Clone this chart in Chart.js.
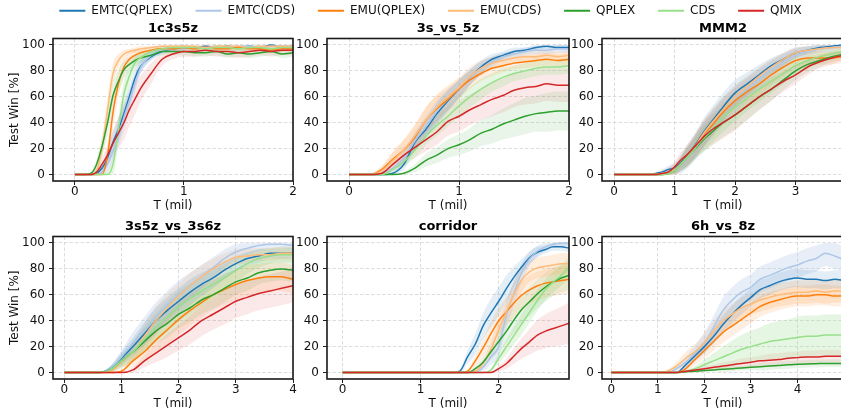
<!DOCTYPE html>
<html>
<head>
<meta charset="utf-8">
<script src="https://cdn.jsdelivr.net/npm/chart.js@4.4.0/dist/chart.umd.min.js"></script>
<style>
  html, body { margin: 0; padding: 0; background: #fff; }
  body { width: 841px; height: 410px; overflow: hidden; position: relative; }
  canvas { position: absolute; }
</style>
</head>
<body>
<canvas id="legend"></canvas>
<canvas id="p0"></canvas>
<canvas id="p1"></canvas>
<canvas id="p2"></canvas>
<canvas id="p3"></canvas>
<canvas id="p4"></canvas>
<canvas id="p5"></canvas>
<script>
// ---- data ----
const seriesNames = ['EMTC(QPLEX)', 'EMTC(CDS)', 'EMU(QPLEX)', 'EMU(CDS)', 'QPLEX', 'CDS', 'QMIX'];
const panelTitles = ['1c3s5z', '3s_vs_5z', 'MMM2', '3s5z_vs_3s6z', 'corridor', '6h_vs_8z'];
const yTicks = [0, 20, 40, 60, 80, 100];
const xTicksList = [[0, 1, 2], [0, 1, 2], [0, 1, 2, 3], [0, 1, 2, 3, 4], [0, 1, 2], [0, 1, 2, 3, 4]];
const xMaxList = [2, 2, 3.8, 4, 2.9, 5];

// 1c3s5z
const t1c3s5z = [0, 0.1, 0.15, 0.2, 0.25, 0.3, 0.35, 0.4, 0.45, 0.5, 0.55, 0.6, 0.7, 0.8, 0.9, 1.0, 1.1, 1.2, 1.3, 1.4, 1.5, 1.6, 1.7, 1.8, 1.9, 2.0];
const mean1c3s5z = [
  [0, 0, 0, 1, 5, 13, 25, 35, 47, 60, 74, 83, 91, 95, 97, 98, 98, 99, 98, 99, 98, 99, 98, 100, 98, 99],
  [0, 0, 0, 0, 2, 8, 18, 30, 44, 57, 70, 82, 92, 96, 97, 98, 98, 98, 99, 98, 99, 99, 98, 99, 99, 99],
  [0, 0, 0, 0, 0, 15, 48, 70, 83, 89, 92, 94, 96, 97, 97, 98, 97, 98, 97, 97, 98, 97, 97, 96, 97, 97],
  [0, 0, 0, 3, 20, 50, 78, 88, 93, 95, 96, 97, 98, 99, 99, 99, 99, 98, 99, 99, 99, 98, 99, 99, 99, 99],
  [0, 0, 1, 8, 22, 40, 61, 72, 81, 85, 88, 90, 92, 95, 95, 95, 94, 94, 95, 93, 94, 93, 94, 95, 93, 94],
  [0, 0, 0, 0, 0, 0, 8, 35, 62, 76, 86, 90, 95, 97, 98, 98, 98, 97, 98, 98, 97, 98, 98, 97, 98, 98],
  [0, 0, 0, 2, 8, 15, 24, 32, 40, 50, 58, 66, 78, 89, 93, 95, 95, 96, 95, 95, 94, 95, 96, 95, 96, 96]
];
const std1c3s5z = [
  [0, 0, 0, 1, 3, 6, 8, 9, 9, 8, 7, 5, 3, 2, 2, 1, 1, 1, 1, 1, 1, 1, 1, 1, 1, 1],
  [0, 0, 0, 1, 3, 6, 8, 9, 9, 8, 7, 5, 3, 2, 2, 2, 1, 1, 1, 1, 1, 1, 1, 1, 1, 1],
  [0, 0, 0, 1, 3, 8, 12, 10, 7, 5, 4, 3, 2, 2, 2, 2, 2, 2, 2, 2, 2, 2, 2, 2, 2, 2],
  [0, 0, 1, 4, 8, 10, 8, 5, 3, 2, 2, 2, 1, 1, 1, 1, 1, 1, 1, 1, 1, 1, 1, 1, 1, 1],
  [0, 0, 1, 4, 8, 10, 10, 9, 7, 6, 5, 4, 3, 3, 3, 3, 3, 3, 3, 3, 3, 3, 3, 3, 3, 3],
  [0, 0, 0, 0, 1, 3, 8, 10, 10, 7, 5, 4, 2, 2, 2, 2, 2, 2, 2, 2, 2, 2, 2, 2, 2, 2],
  [0, 0, 0, 2, 5, 8, 10, 12, 13, 13, 12, 10, 8, 5, 4, 4, 4, 4, 4, 4, 4, 4, 4, 4, 4, 4]
];

// 3s_vs_5z
const t3s5z = [0, 0.1, 0.2, 0.3, 0.4, 0.5, 0.6, 0.7, 0.8, 0.9, 1.0, 1.1, 1.2, 1.3, 1.4, 1.5, 1.6, 1.7, 1.8, 1.9, 2.0];
const mean3s5z = [
  [0, 0, 0, 0, 1, 8, 25, 35, 47, 57, 66, 75, 83, 89, 92, 95, 96, 98, 99, 98, 98],
  [0, 0, 0, 1, 5, 13, 26, 37, 49, 58, 66, 75, 82, 87, 91, 93, 95, 96, 96, 97, 97],
  [0, 0, 0, 4, 12, 19, 29, 42, 51, 58, 66, 73, 78, 82, 84, 86, 87, 88, 89, 88, 89],
  [0, 0, 0, 3, 11, 19, 30, 42, 52, 60, 67, 76, 82, 86, 88, 90, 91, 91, 92, 91, 92],
  [0, 0, 0, 0, 0, 1, 5, 11, 15, 20, 23, 27, 32, 35, 39, 42, 45, 47, 48, 49, 49],
  [0, 0, 0, 0, 4, 10, 19, 30, 38, 45, 53, 60, 66, 71, 75, 78, 80, 82, 83, 83, 84],
  [0, 0, 0, 1, 8, 15, 21, 27, 33, 41, 45, 50, 54, 58, 61, 65, 67, 68, 70, 69, 69]
];
const std3s5z = [
  [0, 0, 0, 0, 1, 4, 6, 7, 8, 8, 7, 6, 5, 4, 3, 3, 2, 2, 2, 2, 2],
  [0, 0, 0, 1, 3, 5, 7, 8, 8, 8, 7, 6, 5, 4, 3, 3, 3, 3, 3, 3, 3],
  [0, 0, 1, 3, 6, 8, 9, 10, 10, 9, 8, 7, 6, 6, 5, 5, 5, 5, 5, 5, 5],
  [0, 0, 1, 3, 6, 8, 9, 10, 10, 9, 8, 7, 6, 5, 5, 4, 4, 4, 4, 4, 4],
  [0, 0, 0, 0, 0, 1, 3, 5, 6, 7, 8, 9, 10, 11, 12, 13, 14, 14, 15, 15, 15],
  [0, 0, 0, 0, 2, 4, 6, 7, 8, 8, 8, 8, 8, 7, 7, 6, 6, 6, 6, 6, 6],
  [0, 0, 0, 1, 4, 6, 8, 9, 10, 11, 12, 12, 12, 13, 13, 13, 13, 13, 13, 13, 13]
];

// MMM2
const tMMM2 = [0, 0.2, 0.4, 0.6, 0.7, 0.8, 0.9, 1.0, 1.1, 1.2, 1.3, 1.4, 1.5, 1.6, 1.8, 2.0, 2.2, 2.4, 2.6, 2.8, 3.0, 3.2, 3.4, 3.6, 3.8, 4.0];
const meanMMM2 = [
  [0, 0, 0, 0, 1, 2, 4, 5, 9, 14, 20, 27, 34, 40, 52, 63, 70, 77, 84, 89, 94, 96, 98, 99, 100, 100],
  [0, 0, 0, 0, 0, 1, 2, 3, 7, 12, 18, 25, 32, 38, 49, 58, 66, 74, 81, 87, 92, 95, 97, 98, 99, 99],
  [0, 0, 0, 0, 0, 0, 1, 3, 8, 13, 19, 26, 32, 37, 48, 57, 64, 70, 77, 83, 88, 90, 90, 90, 91, 91],
  [0, 0, 0, 0, 0, 1, 2, 4, 8, 13, 19, 26, 33, 39, 50, 60, 68, 76, 83, 89, 94, 96, 97, 98, 98, 98],
  [0, 0, 0, 0, 0, 0, 1, 3, 8, 13, 18, 23, 28, 32, 40, 46, 53, 60, 66, 73, 80, 85, 88, 91, 93, 95],
  [0, 0, 0, 0, 0, 0, 1, 3, 8, 13, 18, 24, 29, 34, 44, 52, 59, 66, 72, 78, 84, 88, 91, 93, 95, 96],
  [0, 0, 0, 0, 0, 1, 2, 6, 11, 15, 20, 25, 30, 34, 40, 46, 53, 60, 66, 72, 77, 83, 87, 90, 92, 93]
];
const stdMMM2 = [
  [0, 0, 0, 0, 1, 2, 3, 4, 6, 8, 9, 10, 11, 11, 11, 10, 9, 8, 6, 5, 4, 3, 2, 2, 1, 1],
  [0, 0, 0, 0, 1, 2, 3, 4, 6, 8, 9, 10, 10, 10, 10, 10, 9, 8, 7, 6, 5, 4, 3, 3, 2, 2],
  [0, 0, 0, 0, 0, 1, 2, 3, 5, 7, 8, 9, 10, 10, 10, 10, 10, 9, 8, 7, 6, 6, 5, 5, 5, 5],
  [0, 0, 0, 0, 1, 2, 3, 4, 6, 8, 9, 10, 10, 10, 10, 9, 8, 7, 6, 5, 4, 3, 3, 2, 2, 2],
  [0, 0, 0, 0, 0, 1, 2, 3, 5, 7, 8, 9, 10, 10, 11, 11, 11, 10, 9, 8, 7, 6, 5, 4, 4, 4],
  [0, 0, 0, 0, 0, 1, 2, 3, 5, 7, 8, 9, 10, 10, 11, 11, 10, 10, 9, 8, 7, 6, 5, 4, 4, 4],
  [0, 0, 0, 0, 1, 2, 3, 4, 6, 8, 9, 10, 11, 12, 12, 12, 11, 10, 9, 8, 7, 6, 5, 5, 4, 4]
];

// 3s5z_vs_3s6z
const t3s6z = [0, 0.2, 0.4, 0.6, 0.8, 1.0, 1.2, 1.4, 1.6, 1.8, 2.0, 2.2, 2.4, 2.6, 2.8, 3.0, 3.2, 3.4, 3.6, 3.8, 4.0];
const mean3s6z = [
  [0, 0, 0, 0, 3, 11, 20, 30, 40, 48, 55, 62, 68, 73, 79, 84, 88, 90, 92, 92, 92],
  [0, 0, 0, 0, 3, 12, 23, 33, 43, 52, 60, 67, 74, 81, 88, 93, 96, 98, 99, 99, 98],
  [0, 0, 0, 0, 0, 1, 9, 16, 25, 33, 41, 48, 54, 60, 64, 68, 71, 73, 74, 74, 72],
  [0, 0, 0, 0, 1, 8, 16, 28, 40, 50, 59, 67, 74, 80, 85, 89, 90, 91, 91, 92, 92],
  [0, 0, 0, 0, 2, 9, 16, 24, 32, 38, 45, 50, 56, 60, 65, 70, 73, 77, 79, 80, 79],
  [0, 0, 0, 0, 2, 9, 16, 26, 35, 43, 51, 57, 63, 68, 73, 79, 84, 88, 90, 91, 91],
  [0, 0, 0, 0, 0, 0, 2, 9, 15, 21, 27, 33, 40, 45, 50, 55, 58, 61, 63, 65, 67]
];
const std3s6z = [
  [0, 0, 0, 0, 2, 5, 7, 9, 10, 10, 10, 10, 9, 8, 7, 6, 5, 5, 4, 4, 4],
  [0, 0, 0, 0, 2, 5, 8, 10, 11, 11, 11, 10, 9, 8, 7, 6, 5, 4, 3, 3, 3],
  [0, 0, 0, 0, 0, 1, 5, 8, 10, 11, 12, 12, 12, 12, 12, 12, 12, 11, 11, 11, 11],
  [0, 0, 0, 0, 1, 5, 8, 10, 11, 11, 10, 10, 9, 8, 7, 6, 6, 5, 5, 5, 5],
  [0, 0, 0, 0, 2, 5, 7, 9, 10, 11, 11, 11, 11, 11, 11, 10, 10, 9, 9, 9, 9],
  [0, 0, 0, 0, 2, 5, 8, 10, 11, 12, 12, 12, 11, 11, 10, 9, 8, 7, 6, 6, 6],
  [0, 0, 0, 0, 0, 0, 2, 5, 7, 9, 10, 11, 12, 12, 13, 13, 13, 13, 13, 13, 13]
];

// corridor
const tCorridor = [0, 0.5, 1.0, 1.4, 1.5, 1.6, 1.7, 1.8, 1.9, 2.0, 2.1, 2.2, 2.3, 2.4, 2.5, 2.6, 2.7, 2.8, 2.9];
const meanCorridor = [
  [0, 0, 0, 0, 1, 12, 22, 36, 46, 55, 65, 74, 82, 89, 93, 95, 97, 97, 96],
  [0, 0, 0, 0, 0, 0, 0, 4, 12, 20, 45, 62, 78, 88, 94, 97, 99, 100, 100],
  [0, 0, 0, 0, 0, 1, 9, 19, 30, 40, 47, 54, 60, 64, 67, 69, 70, 71, 72],
  [0, 0, 0, 0, 0, 0, 1, 7, 18, 33, 47, 61, 72, 78, 81, 82, 83, 84, 84],
  [0, 0, 0, 0, 0, 0, 3, 8, 16, 24, 32, 41, 49, 55, 61, 66, 70, 73, 75],
  [0, 0, 0, 0, 0, 0, 0, 0, 2, 11, 20, 29, 38, 47, 56, 64, 70, 75, 81],
  [0, 0, 0, 0, 0, 0, 0, 0, 0, 3, 7, 13, 19, 24, 29, 32, 34, 36, 38]
];
const stdCorridor = [
  [0, 0, 0, 0, 1, 5, 8, 10, 11, 11, 10, 8, 6, 5, 4, 3, 3, 3, 3],
  [0, 0, 0, 0, 0, 0, 0, 3, 6, 8, 10, 9, 7, 5, 4, 3, 2, 2, 2],
  [0, 0, 0, 0, 0, 1, 4, 7, 9, 10, 11, 11, 11, 11, 11, 11, 11, 11, 11],
  [0, 0, 0, 0, 0, 0, 1, 3, 6, 8, 9, 10, 9, 8, 8, 8, 8, 8, 8],
  [0, 0, 0, 0, 0, 0, 2, 4, 6, 8, 9, 10, 11, 11, 11, 11, 11, 11, 11],
  [0, 0, 0, 0, 0, 0, 0, 0, 1, 4, 6, 7, 8, 8, 8, 8, 8, 8, 8],
  [0, 0, 0, 0, 0, 0, 0, 0, 0, 2, 4, 6, 8, 10, 12, 13, 14, 15, 16]
];

// 6h_vs_8z
const t6h8z = [0, 0.5, 1.0, 1.2, 1.4, 1.6, 1.8, 2.0, 2.2, 2.4, 2.6, 2.8, 3.0, 3.2, 3.4, 3.6, 3.8, 4.0, 4.2, 4.4, 4.6, 4.8, 5.0];
const mean6h8z = [
  [0, 0, 0, 0, 0, 6, 13, 20, 28, 37, 45, 52, 58, 64, 67, 70, 72, 73, 72, 72, 71, 72, 71],
  [0, 0, 0, 0, 3, 8, 15, 23, 35, 48, 56, 62, 66, 72, 75, 78, 81, 83, 86, 88, 92, 90, 87],
  [0, 0, 0, 0, 0, 3, 10, 17, 24, 31, 36, 41, 46, 51, 54, 56, 58, 59, 59, 60, 60, 59, 59],
  [0, 0, 0, 1, 5, 11, 16, 23, 32, 40, 45, 50, 53, 56, 58, 60, 61, 62, 62, 63, 62, 63, 63],
  [0, 0, 0, 0, 0, 0.5, 1, 1.5, 2, 2.5, 3, 3.5, 4, 4.5, 5, 5.5, 6, 6.3, 6.6, 6.8, 7, 7, 7],
  [0, 0, 0, 0, 0, 1, 3, 6, 9, 12, 15, 18, 20, 22, 24, 25, 26, 27, 28, 28, 29, 29, 29],
  [0, 0, 0, 0, 0, 1, 2, 3, 4, 5, 6, 7, 8, 9, 9.5, 10, 11, 11.5, 12, 12, 12.5, 12.5, 12.5]
];
const std6h8z = [
  [0, 0, 0, 0, 0, 2, 4, 5, 6, 7, 7, 7, 7, 7, 7, 7, 7, 7, 7, 7, 7, 7, 7],
  [0, 0, 0, 0, 2, 4, 6, 8, 9, 10, 10, 10, 10, 10, 10, 10, 10, 10, 10, 10, 10, 10, 10],
  [0, 0, 0, 0, 0, 2, 4, 6, 7, 8, 8, 8, 8, 8, 8, 8, 8, 8, 8, 8, 8, 8, 8],
  [0, 0, 0, 1, 3, 5, 6, 7, 8, 8, 8, 8, 8, 9, 9, 9, 9, 9, 9, 9, 9, 9, 9],
  [0, 0, 0, 0, 0, 0, 1, 1, 1, 2, 2, 2, 2, 3, 3, 3, 3, 3, 3, 3, 3, 3, 3],
  [0, 0, 0, 0, 0, 1, 2, 4, 6, 8, 10, 11, 12, 13, 14, 15, 15, 16, 16, 16, 16, 16, 16],
  [0, 0, 0, 0, 0, 1, 1, 2, 2, 3, 3, 4, 4, 4, 5, 5, 5, 5, 5, 5, 5, 5, 5]
];

const timeList = [t1c3s5z, t3s5z, tMMM2, t3s6z, tCorridor, t6h8z];
const meanList = [mean1c3s5z, mean3s5z, meanMMM2, mean3s6z, meanCorridor, mean6h8z];
const stdList = [std1c3s5z, std3s5z, stdMMM2, std3s6z, stdCorridor, std6h8z];

// ---- style ----
const FONT = 'DejaVu Sans';
const lineColors = ['#1f77b4', '#aec7e8', '#ff7f0e', '#ffbb78', '#2ca02c', '#98df8a', '#d62728'];
const bandColors = ['rgba(31,119,180,0.12)', 'rgba(174,199,232,0.3)', 'rgba(255,127,14,0.12)',
  'rgba(255,187,120,0.25)', 'rgba(44,160,44,0.1)', 'rgba(152,223,138,0.25)', 'rgba(214,39,40,0.1)'];

// canvas placement per panel (left, top, width, height, y-axis width, title top padding)
const boxes = [
  { left: 0,   top: 0,   w: 305, h: 213, yw: 53, padTop: 20.9, yTitle: true },
  { left: 295, top: 0,   w: 286, h: 213, yw: 32, padTop: 20.9 },
  { left: 570, top: 0,   w: 286, h: 213, yw: 32, padTop: 20.9 },
  { left: 0,   top: 200, w: 305, h: 211, yw: 53, padTop: 18.9, yTitle: true },
  { left: 295, top: 200, w: 286, h: 211, yw: 32, padTop: 18.9 },
  { left: 570, top: 200, w: 286, h: 211, yw: 32, padTop: 18.9 }
];

const framePlugin = {
  id: 'frame',
  afterDatasetsDraw(chart) {
    const { ctx, chartArea: a } = chart;
    ctx.save();
    ctx.strokeStyle = '#1a1a1a';
    ctx.lineWidth = 1.6;
    ctx.strokeRect(a.left, a.top, a.right - a.left, a.bottom - a.top);
    ctx.restore();
  }
};

function buildDatasets(k) {
  const t = timeList[k], mean = meanList[k], std = stdList[k];
  const sets = [];
  // mean lines, QMIX first so it ends up on top
  for (let s = seriesNames.length - 1; s >= 0; s--) {
    sets.push({
      label: seriesNames[s],
      data: t.map((x, i) => ({ x, y: mean[s][i] })),
      borderColor: lineColors[s],
      borderWidth: 1.5,
      pointRadius: 0,
      fill: false,
      cubicInterpolationMode: 'monotone'
    });
  }
  // shaded bands
  seriesNames.forEach((name, s) => {
    sets.push({
      label: name + ' hi',
      data: t.map((x, i) => ({ x, y: Math.min(mean[s][i] + std[s][i], 100) })),
      borderColor: 'rgba(0,0,0,0)',
      borderWidth: 0,
      pointRadius: 0,
      backgroundColor: bandColors[s],
      fill: '+1',
      cubicInterpolationMode: 'monotone'
    });
    sets.push({
      label: name + ' lo',
      data: t.map((x, i) => ({ x, y: Math.max(mean[s][i] - std[s][i], 0) })),
      borderColor: 'rgba(0,0,0,0)',
      borderWidth: 0,
      pointRadius: 0,
      fill: false,
      cubicInterpolationMode: 'monotone'
    });
  });
  return sets;
}

function axisGrid() {
  return { color: '#d4d4d4', lineWidth: 0.8, tickLength: 4, tickColor: '#222', tickWidth: 1 };
}

function initPanel(k) {
  const box = boxes[k];
  const cv = document.getElementById('p' + k);
  cv.width = box.w;
  cv.height = box.h;
  cv.style.left = box.left + 'px';
  cv.style.top = box.top + 'px';
  const xTicks = xTicksList[k];
  new Chart(cv, {
    type: 'line',
    data: { datasets: buildDatasets(k) },
    plugins: [framePlugin],
    options: {
      responsive: false,
      animation: false,
      layout: { padding: { left: 0, right: 12, top: 0, bottom: 0 } },
      scales: {
        x: {
          type: 'linear', min: -0.2, max: xMaxList[k],
          afterBuildTicks: s => { s.ticks = xTicks.map(v => ({ value: v })); },
          afterFit: s => { s.height = 32; },
          grid: axisGrid(),
          border: { display: false, dash: [3.5, 2] },
          ticks: { color: '#111', font: { family: FONT, size: 12 }, padding: 0, maxRotation: 0, autoSkip: false },
          title: { display: true, text: 'T (mil)', color: '#111', font: { family: FONT, size: 12 }, padding: 0 }
        },
        y: {
          type: 'linear', min: -5, max: 105,
          afterBuildTicks: s => { s.ticks = yTicks.map(v => ({ value: v })); },
          afterFit: s => { s.width = box.yw; },
          grid: axisGrid(),
          border: { display: false, dash: [3.5, 2] },
          ticks: { color: '#111', font: { family: FONT, size: 12 }, padding: 4 },
          title: { display: !!box.yTitle, text: 'Test Win [%]', color: '#111', font: { family: FONT, size: 12 }, padding: { top: 7.8, bottom: 0 } }
        }
      },
      plugins: {
        legend: { display: false },
        tooltip: { enabled: false },
        filler: { propagate: false, drawTime: 'beforeDatasetsDraw' },
        title: {
          display: true, text: panelTitles[k], fullSize: false, color: '#000',
          font: { family: FONT, size: 13, weight: 'bold' },
          padding: { top: box.padTop, bottom: 2 }
        }
      }
    }
  });
}

function initLegend() {
  const cv = document.getElementById('legend');
  cv.width = 841;
  cv.height = 160;
  cv.style.left = '10px';
  cv.style.top = '-18px';
  new Chart(cv, {
    type: 'line',
    data: {
      datasets: seriesNames.map((name, s) => ({
        label: name, data: [], borderColor: lineColors[s], backgroundColor: 'rgba(0,0,0,0)', borderWidth: 2
      }))
    },
    options: {
      responsive: false,
      animation: false,
      layout: { padding: 0 },
      scales: { x: { display: false }, y: { display: false } },
      plugins: {
        tooltip: { enabled: false },
        legend: {
          display: true, position: 'top',
          labels: { boxWidth: 26, boxHeight: 0, padding: 22.8, color: '#111', font: { family: FONT, size: 12 } }
        }
      }
    }
  });
}

initLegend();
for (let k = 0; k < 6; k++) initPanel(k);
</script>
</body>
</html>
